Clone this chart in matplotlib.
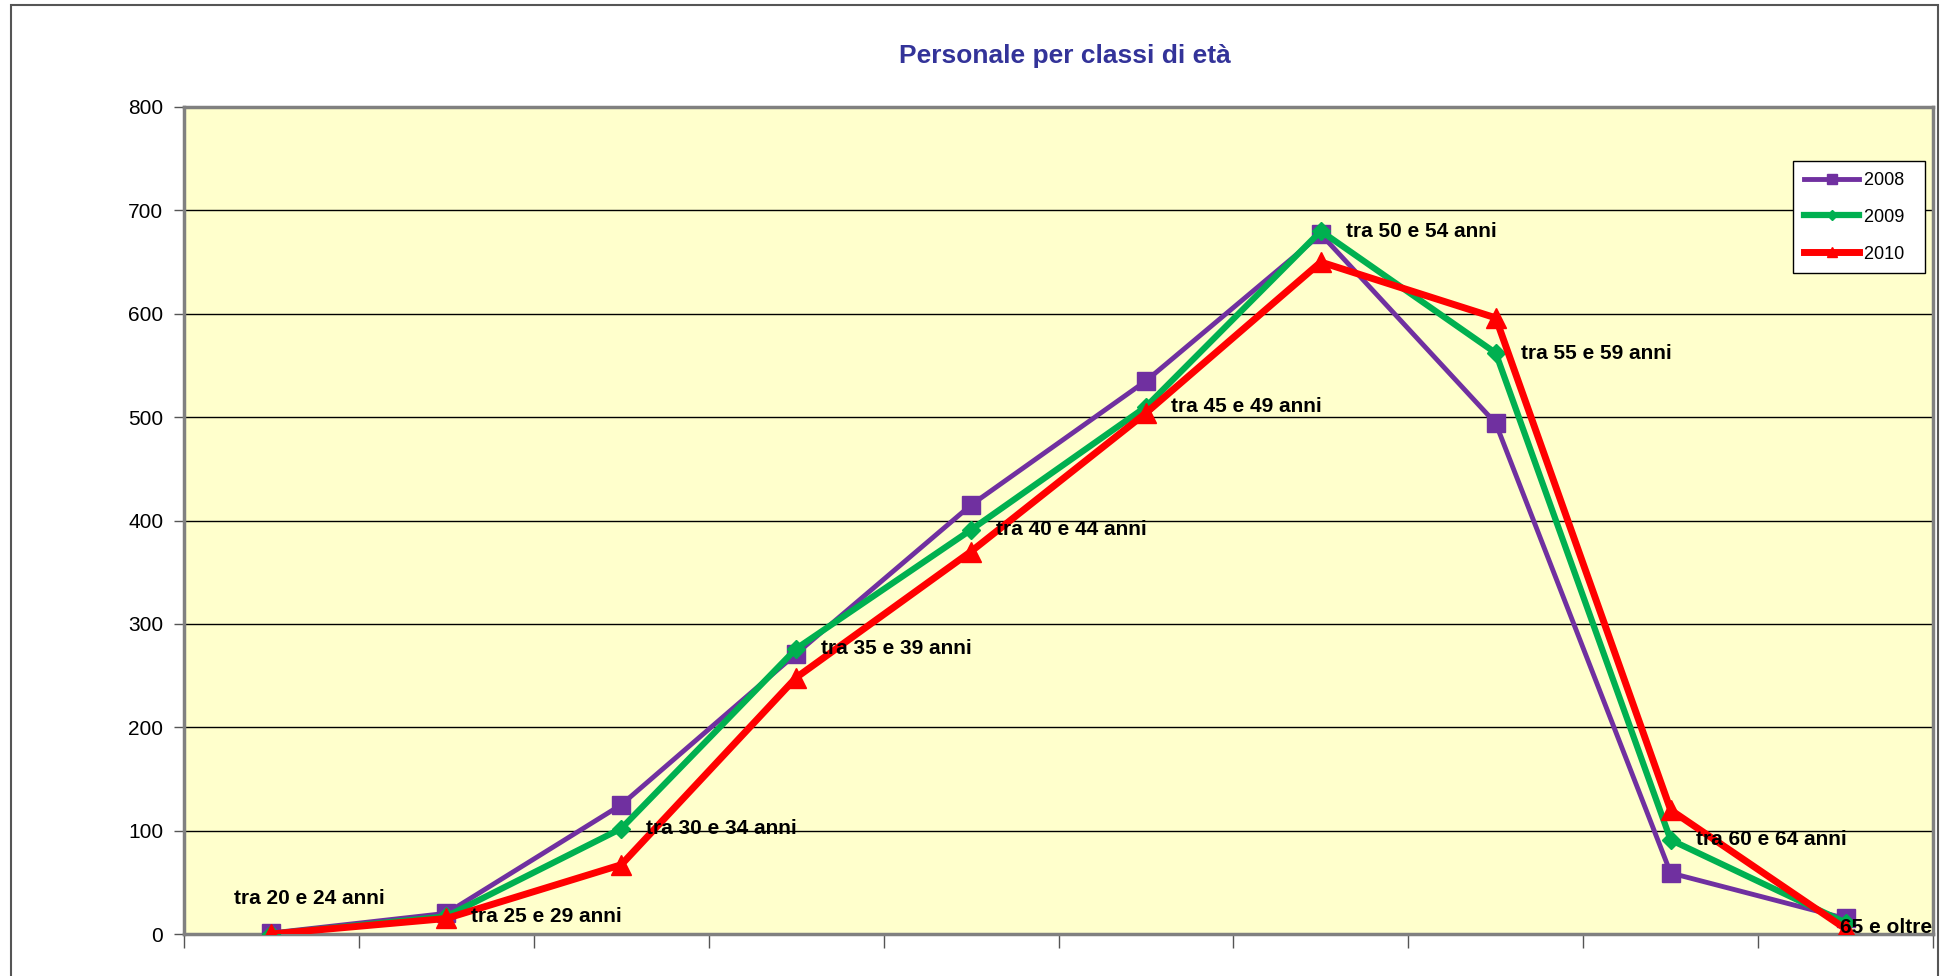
import matplotlib.pyplot as plt
from matplotlib.patches import Rectangle

plt.rcParams['font.family'] = ['Liberation Sans', 'DejaVu Sans']

# classi di età
categorie = ["tra 20 e 24 anni", "tra 25 e 29 anni", "tra 30 e 34 anni",
             "tra 35 e 39 anni", "tra 40 e 44 anni", "tra 45 e 49 anni",
             "tra 50 e 54 anni", "tra 55 e 59 anni", "tra 60 e 64 anni",
             "65 e oltre"]

anno_2008 = [1, 20, 125, 271, 415, 535, 677, 494, 59, 15]
anno_2009 = [0, 17, 102, 276, 391, 510, 680, 562, 91, 11]
anno_2010 = [0, 15, 67, 248, 370, 504, 650, 596, 120, 5]

W, H = 1945, 976
fig = plt.figure(figsize=(W / 100, H / 100), dpi=100)
fig.patch.set_facecolor("white")

# bordo esterno del grafico
fig.add_artist(Rectangle((11 / W, -0.05), 1927 / W, 1 - 5 / H + 0.05,
                         transform=fig.transFigure, fill=False,
                         edgecolor="#555555", linewidth=1.5))

left, right, top, bottom = 184, 1933, 107, 934
ax = fig.add_axes([left / W, 1 - bottom / H, (right - left) / W, (bottom - top) / H])
ax.set_facecolor("#FFFFCC")

x = list(range(len(categorie)))
ax.plot(x, anno_2008, color="#7030A0", lw=3.5, marker="s", ms=13.5, label="2008  ", zorder=3)
ax.plot(x, anno_2009, color="#00B050", lw=4.5, marker="D", ms=9.5, label="2009  ", zorder=4)
ax.plot(x, anno_2010, color="#FF0000", lw=5, marker="^", ms=14, label="2010  ", zorder=5)

ax.set_xlim(-0.5, len(categorie) - 0.5)
ax.set_ylim(0, 800)
ax.set_yticks(range(0, 801, 100))
ax.yaxis.grid(True, color="black", linewidth=1)
ax.set_axisbelow(True)
ax.tick_params(axis="y", labelsize=15, length=7, width=1, color="#555555", pad=8)
ax.set_xticks([i - 0.5 for i in range(len(categorie) + 1)])
ax.set_xticklabels([])
ax.tick_params(axis="x", length=10, width=1, color="#555555")
for s in ax.spines.values():
    s.set_color("#808080")
    s.set_linewidth(2.5)

# etichette con il nome della classe sulla serie 2009
for i, (cat, v) in enumerate(zip(categorie, anno_2009)):
    dx, dy = 25, 0
    if i == 0:
        dx, dy = -37, 36
    elif i == len(categorie) - 1:
        dx, dy = -6, -5
    ax.annotate(cat, (i, v), xytext=(dx, dy), textcoords="offset pixels",
                ha="left", va="center", fontsize=15, fontweight="bold",
                color="black", zorder=6, annotation_clip=False)

fig.text(1065 / W, 1 - 56 / H, "Personale per classi di età", ha="center",
         va="center", fontsize=19, fontweight="bold", color="#333399")

leg = ax.legend(loc="upper right", bbox_to_anchor=(1925 / W, 1 - 161 / H),
                bbox_transform=fig.transFigure, fontsize=13, frameon=True,
                fancybox=False, edgecolor="black", framealpha=1,
                handlelength=3.05, labelspacing=1.1, markerscale=0.55,
                borderpad=0.6, handletextpad=0.25, borderaxespad=0)
leg.get_frame().set_linewidth(1)

fig.savefig("out.png", dpi=100)
